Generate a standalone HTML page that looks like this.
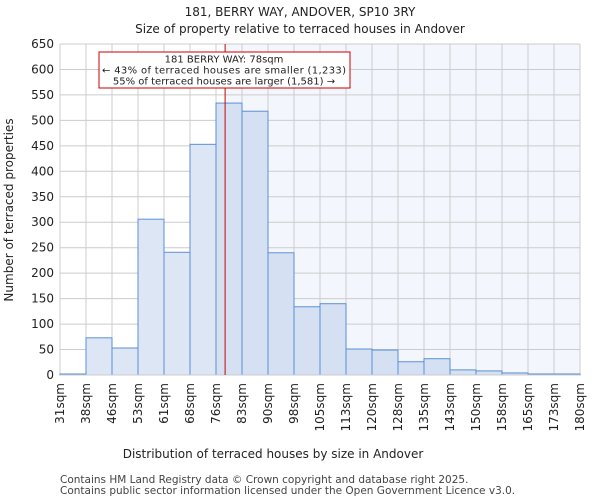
<!DOCTYPE html>
<html><head><meta charset="utf-8"><style>
body{margin:0;background:#fff;font-family:"DejaVu Sans","Liberation Sans",sans-serif;}
</style></head><body>
<svg width="600" height="500" id="c" font-family="DejaVu Sans, Liberation Sans, sans-serif">
<text x="300" y="16" text-anchor="middle" font-size="12" fill="#222">181, BERRY WAY, ANDOVER, SP10 3RY</text>
<text x="300" y="33" text-anchor="middle" font-size="12" fill="#222">Size of property relative to terraced houses in Andover</text>
<g id="plot"></g>
<text x="273" y="458" text-anchor="middle" font-size="12" fill="#222">Distribution of terraced houses by size in Andover</text>
<text transform="translate(13,210) rotate(-90)" text-anchor="middle" font-size="12" fill="#222">Number of terraced properties</text>
<text x="60" y="483" font-size="10.5" fill="#444">Contains HM Land Registry data © Crown copyright and database right 2025.</text>
<text x="60" y="494" font-size="10.5" fill="#444">Contains public sector information licensed under the Open Government Licence v3.0.</text>
</svg>
<script>
const categories=["31sqm","38sqm","46sqm","53sqm","61sqm","68sqm","76sqm","83sqm","90sqm","98sqm","105sqm","113sqm","120sqm","128sqm","135sqm","143sqm","150sqm","158sqm","165sqm","173sqm","180sqm"];
const counts=[2,73,53,306,241,453,534,518,240,134,140,51,49,26,32,10,8,4,2,2];
const yTicks=[0,50,100,150,200,250,300,350,400,450,500,550,600,650];
const markerBin=6.35;
const NS="http://www.w3.org/2000/svg";
const L=60,R=580,T=44,B=375,yMax=650;
const n=counts.length;
const bw=(R-L)/n;
const xs=i=>L+i*bw;
const ys=v=>B-(v/yMax)*(B-T);
const g=document.getElementById('plot');
function mk(t,a){const e=document.createElementNS(NS,t);for(const k in a)e.setAttribute(k,a[k]);g.appendChild(e);return e;}
const mx=xs(markerBin);
let e=mk('rect',{x:mx,y:T,width:R-mx,height:B-T,fill:'#f3f6fd'});


yTicks.forEach(v=>{
 let l=mk('line',{x1:L,x2:R,y1:ys(v),y2:ys(v),stroke:'#ccc','stroke-width':1});
 
 
 let t=mk('text',{x:L-6,y:ys(v)+4,'text-anchor':'end','font-size':12,fill:'#222'});
 t.textContent=v;
 
 
});
categories.forEach((c,i)=>{
 let l=mk('line',{x1:xs(i),x2:xs(i),y1:T,y2:B,stroke:'#ccc','stroke-width':1});
 
 
 let t=mk('text',{transform:`translate(${xs(i)+4},${B+8}) rotate(-90)`,'text-anchor':'end','font-size':12,fill:'#222'});
 t.textContent=c;
 
 
});
counts.forEach((v,i)=>{
 let r=mk('rect',{x:xs(i),y:ys(v),width:bw,height:B-ys(v),fill:i<markerBin-0.5?'#dce6f4':'#d5e1f3',stroke:'#5b8fd6','stroke-width':1});
 
 
});
let ax=mk('line',{x1:L,x2:R,y1:B,y2:B,stroke:'#ccc'});


let m=mk('line',{x1:mx,x2:mx,y1:T,y2:B,stroke:'#cc0000','stroke-width':1});


let box=mk('rect',{x:99,y:52,width:251,height:36,fill:'#fff',stroke:'#cc0000','stroke-width':1});


["181 BERRY WAY: 78sqm","← 43% of terraced houses are smaller (1,233)","55% of terraced houses are larger (1,581) →"].forEach((s,i)=>{
 let t=mk('text',{x:224,y:62.5+i*11,'text-anchor':'middle','font-size':10,fill:'#222'});
 if(i===1) t.setAttribute('textLength','244');
 t.textContent=s;
 
 
});
</script>
</body></html>
